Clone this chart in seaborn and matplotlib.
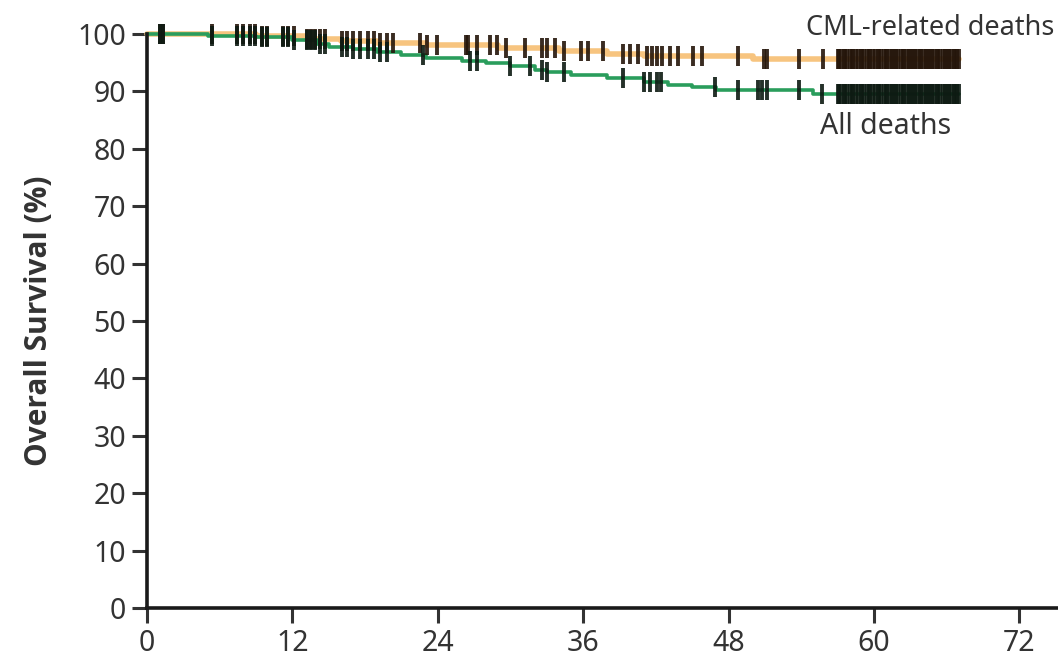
import numpy as np
import pandas as pd
import matplotlib
matplotlib.use("Agg")
import matplotlib.pyplot as plt
import seaborn as sns

# Kaplan-Meier step data (months, % surviving)
all_times = [0, 5, 9, 12, 14, 15, 17, 19, 21, 23, 26, 28, 30, 32, 33, 35, 38, 41, 43, 45, 47, 55, 67]
all_surv = [100, 99.7, 99.4, 99.0, 98.3, 97.8, 97.3, 96.8, 96.3, 95.9, 95.3, 94.9, 94.4,
            93.8, 93.3, 92.9, 92.3, 91.7, 91.2, 90.7, 90.2, 89.5, 89.5]

cml_times = [0, 9, 13, 16, 19, 23, 29, 34, 38, 41, 50, 67]
cml_surv = [100, 99.6, 99.2, 98.8, 98.4, 98.0, 97.6, 97.0, 96.5, 96.1, 95.6, 95.6]

# censored observations (months)
early_censor = [1.1, 1.3, 5.4, 7.4, 7.9, 8.5, 8.9, 9.5, 9.9, 11.2, 11.6, 12.1, 13.2, 13.5,
                13.9, 14.3, 14.7, 16.1, 16.5, 17.0, 17.6, 18.2, 18.7, 19.2, 19.8]
cml_censor = [20.3, 22.5, 23.1, 23.9, 26.3, 26.5, 27.2, 28.3, 28.9, 29.6, 31.2, 32.6, 33.0,
              33.7, 34.4, 35.8, 36.4, 37.6, 39.3, 39.9, 40.5, 41.3, 41.7, 42.1, 42.5, 43.2,
              43.8, 45.1, 45.8, 48.8, 50.9, 51.2, 53.8, 55.8]
all_censor = [22.8, 26.7, 27.2, 30.0, 31.6, 32.6, 33.0, 34.4, 39.3, 41.0, 41.5, 42.1, 42.4,
              46.9, 48.8, 50.4, 50.8, 51.2, 53.8, 55.7]
late_censor = [57.0, 57.1, 57.3, 57.5, 57.6, 57.8, 58.0, 58.2, 58.3, 58.5, 58.7, 58.9, 59.0,
               59.2, 59.4, 59.6, 59.7, 59.9, 60.1, 60.3, 60.4, 60.6, 60.8, 61.0, 61.1, 61.3,
               61.5, 61.7, 61.8, 62.0, 62.2, 62.4, 62.5, 62.7, 62.9, 63.1, 63.2, 63.4, 63.6,
               63.8, 63.9, 64.1, 64.3, 64.5, 64.6, 64.8, 65.0, 65.2, 65.3, 65.5, 65.7, 65.9,
               66.0, 66.2, 66.4, 66.6, 66.7, 66.9, 67.0]

x_ticks = [0, 12, 24, 36, 48, 60, 72]
y_ticks = list(range(0, 101, 10))

green = "#2a9d5c"
orange = "#f7c47f"
ink = "#333333"

sns.set_theme(style="ticks")
plt.rcParams["font.family"] = ["Noto Sans", "DejaVu Sans"]

fig = plt.figure(figsize=(10.58, 6.61), dpi=100)
ax = fig.add_axes([0.139, 0.080, 0.861, 0.8686])

df = pd.concat([
    pd.DataFrame({"month": cml_times, "surv": cml_surv, "group": "CML-related deaths"}),
    pd.DataFrame({"month": all_times, "surv": all_surv, "group": "All deaths"}),
])
sns.lineplot(data=df[df.group == "CML-related deaths"], x="month", y="surv",
             drawstyle="steps-post", color=orange, lw=4, ax=ax, clip_on=False)
sns.lineplot(data=df[df.group == "All deaths"], x="month", y="surv",
             drawstyle="steps-post", color=green, lw=2.6, ax=ax, clip_on=False)


def step_at(times, surv, t):
    idx = np.searchsorted(times, t, side="right") - 1
    return np.asarray(surv)[idx]


cml_c = np.array(early_censor + cml_censor + late_censor)
all_c = np.array(early_censor + all_censor + late_censor)
ax.plot(cml_c, step_at(cml_times, cml_surv, cml_c), ls="none", marker="|",
        ms=14, mew=2.8, color="#24150a", alpha=0.9, clip_on=False)
ax.plot(all_c, step_at(all_times, all_surv, all_c), ls="none", marker="|",
        ms=14, mew=2.8, color="#0d1a12", alpha=0.9, clip_on=False)

ax.set_xlim(0, 75.2)
ax.set_ylim(0, 100)
ax.set_xticks(x_ticks)
ax.set_yticks(y_ticks)
ax.tick_params(axis="both", labelsize=20.5, colors=ink, width=2.2, length=11, pad=4)
for s in ["left", "bottom"]:
    ax.spines[s].set_linewidth(2.6)
    ax.spines[s].set_color("#1a1a1a")
sns.despine(ax=ax)

ax.set_xlabel("")
ax.set_ylabel("Overall Survival (%)", fontsize=21.5, fontweight="bold", color=ink, labelpad=17,
              family=["Open Sans", "DejaVu Sans"])

fig.text(0.997, 0.957, "CML-related deaths", ha="right", va="center", fontsize=19.5, color=ink)
ax.text(66.4, 86.4, "All deaths", ha="right", va="top", fontsize=20.5, color=ink)

fig.savefig("out.png", dpi=100)
